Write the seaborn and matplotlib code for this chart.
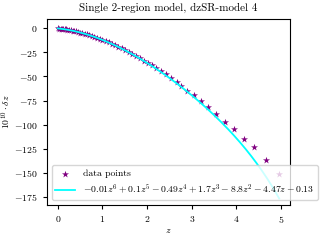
import numpy as np
import pandas as pd
import matplotlib
matplotlib.use("Agg")
import matplotlib.pyplot as plt
import seaborn as sns

plt.rcParams['font.family'] = ['cmr10', 'DejaVu Serif']
plt.rcParams['mathtext.fontset'] = 'cm'
plt.rcParams['axes.formatter.use_mathtext'] = True
plt.rcParams['font.size'] = 7

# data points
z_data = [0.0, 0.03, 0.06, 0.09, 0.12, 0.15, 0.18, 0.21, 0.25, 0.29, 0.33, 0.37,
          0.41, 0.45, 0.5, 0.55, 0.6, 0.65, 0.7, 0.76, 0.82, 0.88, 0.94, 1.0,
          1.07, 1.14, 1.21, 1.28, 1.35, 1.43, 1.51, 1.59, 1.67, 1.75, 1.84, 1.93,
          2.01, 2.1, 2.2, 2.31, 2.42, 2.53, 2.66, 2.77, 2.9, 3.06, 3.21, 3.37,
          3.55, 3.75, 3.95, 4.17, 4.4, 4.66, 4.96]
dz_data = [0.0, -0.2, -0.4, -0.6, -0.8, -1.0, -1.2, -1.4, -1.8, -2.1, -2.5, -2.9,
           -3.3, -3.8, -4.4, -5.0, -5.6, -6.3, -7.0, -7.9, -8.9, -9.9, -10.9, -12.0,
           -13.3, -14.7, -16.1, -17.6, -19.1, -20.9, -22.8, -24.7, -26.7, -28.8, -31.2, -33.6,
           -35.9, -38.0, -41.2, -44.3, -47.4, -51.6, -55.4, -59.9, -64.7, -69.5, -75.8, -81.6,
           -88.6, -97.2, -104.6, -115.1, -123.4, -136.4, -151.0]

# fit polynomial coefficients (z^6 ... z^0)
fit_coeffs = [-0.01, 0.1, -0.49, 1.7, -8.8, -4.47, -0.13]
fit_label = r"$-0.01z^6+0.1z^5-0.49z^4+1.7z^3-8.8z^2-4.47z-0.13$"

df = pd.DataFrame({"z": z_data, "dz": dz_data})
z_fit = np.linspace(0, z_data[-1], 300)
df_fit = pd.DataFrame({"z": z_fit, "dz": np.polyval(fit_coeffs, z_fit)})

fig = plt.figure(figsize=(3.2, 2.4), dpi=100)
ax = fig.add_axes([0.146, 0.146, 0.760, 0.775])

sns.scatterplot(data=df, x="z", y="dz", ax=ax, marker="*", color="purple",
                s=28, linewidth=0, label="data points", zorder=2)
sns.lineplot(data=df_fit, x="z", y="dz", ax=ax, color="cyan", linewidth=1.3,
             label=fit_label, zorder=3)

ax.set_xlim(-0.25, 5.2)
ax.set_ylim(-183.3, 9.7)
ax.set_xticks([0, 1, 2, 3, 4, 5])
ax.set_yticks([0, -25, -50, -75, -100, -125, -150, -175])
ax.tick_params(labelsize=7, length=3)
ax.set_xlabel(r"$z$", fontsize=7)
ax.set_ylabel(r"$10^{10}\cdot\delta z$", fontsize=7)
ax.yaxis.set_label_coords(-0.14, 0.5)
ax.xaxis.set_label_coords(0.5, -0.115)
ax.set_title("Single 2-region model, dzSR-model 4", fontsize=8)
ax.legend(loc="lower left", fontsize=7)

fig.savefig("out.png", dpi=100)
